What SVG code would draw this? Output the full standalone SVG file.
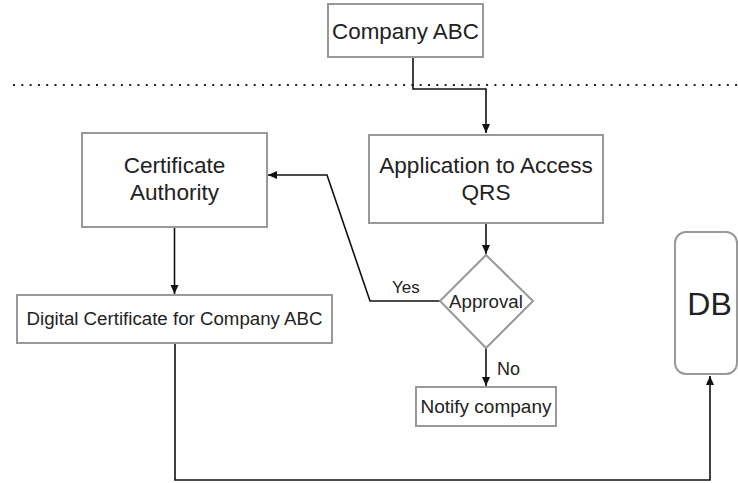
<svg xmlns="http://www.w3.org/2000/svg" width="738" height="483" viewBox="0 0 738 483">
<defs>
<marker id="arr" markerUnits="userSpaceOnUse" markerWidth="10" markerHeight="10" viewBox="0 0 10 10" refX="9" refY="5" orient="auto">
<path d="M0,1 L9,5 L0,9 Z" fill="#111"/>
</marker>
<style>
.box{fill:#fff;stroke:#999;stroke-width:2}
.t{font-family:"Liberation Sans",Arial,sans-serif;fill:#222;text-anchor:middle}
.l{font-family:"Liberation Sans",Arial,sans-serif;fill:#222}
.c{fill:none;stroke:#111;stroke-width:1.6}
</style>
</defs>
<rect width="738" height="483" fill="#fff"/>
<line x1="13" y1="85" x2="738" y2="85" stroke="#222" stroke-width="2.2" stroke-dasharray="2 6.3"/>
<g id="connectors">
<path class="c" d="M413,57 V89 H486 V133" marker-end="url(#arr)"/>
<path class="c" d="M486,223 V254" marker-end="url(#arr)"/>
<path class="c" d="M440,301 H370 L327,175 H268" marker-end="url(#arr)"/>
<path class="c" d="M174.5,228 V294" marker-end="url(#arr)"/>
<path class="c" d="M486,348 V386" marker-end="url(#arr)"/>
<path class="c" d="M175,344 V480 H710 V376" marker-end="url(#arr)"/>
<text class="l" x="392" y="293" font-size="17">Yes</text>
<text class="l" x="497" y="375" font-size="18">No</text>
</g>
<g id="company">
<rect class="box" x="328" y="4" width="155" height="53"/>
<text class="t" x="405.5" y="39" font-size="22.4">Company ABC</text>
</g>
<g id="application">
<rect class="box" x="369" y="135" width="234" height="88"/>
<text class="t" x="486" y="173" font-size="22.6">Application to Access</text>
<text class="t" x="486" y="200" font-size="22.6">QRS</text>
</g>
<g id="ca">
<rect class="box" x="82" y="133" width="185" height="94"/>
<text class="t" x="174.5" y="173" font-size="22.6">Certificate</text>
<text class="t" x="174.5" y="200" font-size="22.6">Authority</text>
</g>
<g id="digital">
<rect class="box" x="17" y="295" width="315" height="48"/>
<text class="t" x="174.5" y="325" font-size="18.7">Digital Certificate for Company ABC</text>
</g>
<g id="approval">
<polygon class="box" points="440,301 486,255 533,301 486,348"/>
<text class="t" x="486" y="308" font-size="18.7">Approval</text>
</g>
<g id="notify">
<rect class="box" x="416" y="387" width="140" height="39"/>
<text class="t" x="486" y="413" font-size="19">Notify company</text>
</g>
<g id="db">
<rect class="box" x="675" y="232" width="62" height="142" rx="11"/>
<text class="t" x="709.5" y="315" font-size="32">DB</text>
</g>
</svg>
